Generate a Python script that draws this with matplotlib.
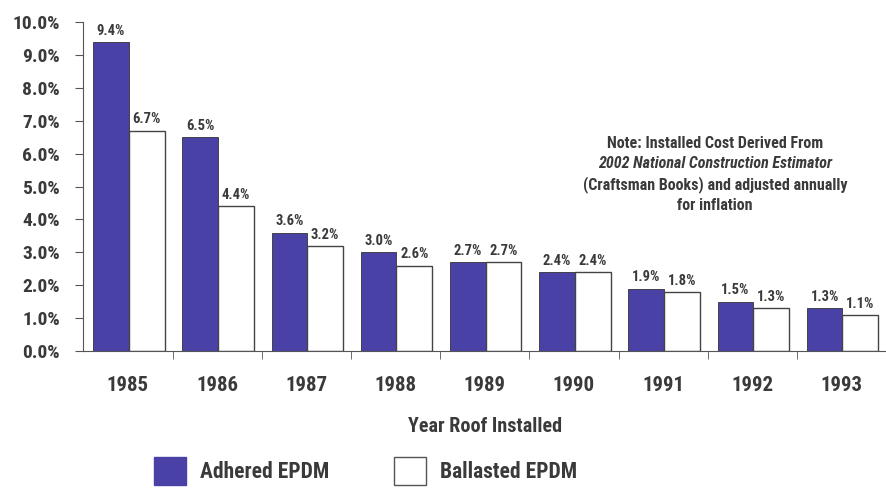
import numpy as np
import matplotlib.pyplot as plt
from matplotlib.patches import Patch

years = ['1985', '1986', '1987', '1988', '1989', '1990', '1991', '1992', '1993']
adhered = [9.4, 6.5, 3.6, 3.0, 2.7, 2.4, 1.9, 1.5, 1.3]
ballasted = [6.7, 4.4, 3.2, 2.6, 2.7, 2.4, 1.8, 1.3, 1.1]

purple = '#4a41a6'
txt = '#3a3a3a'
plt.rcParams['font.family'] = ['Roboto Condensed', 'Liberation Sans Narrow', 'Roboto', 'DejaVu Sans']
plt.rcParams['font.weight'] = 'bold'
plt.rcParams['axes.labelweight'] = 'bold'

fig = plt.figure(figsize=(8.87, 4.93), dpi=100)
ax = fig.add_axes([0.094, 0.288, 0.905, 0.667])

x = np.arange(len(years))
w = 0.4
b1 = ax.bar(x - w/2 + 0.01, adhered, w, color=purple, edgecolor='#333333', linewidth=0.6)
b2 = ax.bar(x + w/2 + 0.01, ballasted, w, color='white', edgecolor='#444444', linewidth=1)

for bars, vals in [(b1, adhered), (b2, ballasted)]:
    for r, v in zip(bars, vals):
        ax.text(r.get_x() + r.get_width()/2, v + 0.13, f'{v:.1f}%', ha='center', va='bottom',
                fontsize=10.5, color=txt, fontweight='bold')

ax.set_xlim(-0.5, len(years) - 0.5)
ax.set_ylim(0, 10)
ax.set_yticks(np.arange(0, 11))
ax.set_yticklabels([f'{v:.1f}%' for v in range(11)], fontsize=14, color=txt)
ax.set_xticks(x)
ax.set_xticklabels(years, fontsize=15, color=txt)
ax.tick_params(axis='x', length=0, pad=18)
ax.tick_params(axis='y', length=6, color='#555555', pad=11)
ax.set_xticks(np.arange(0.5, len(years) - 1, 1), minor=True)
ax.tick_params(axis='x', which='minor', length=6, color='#555555')
ax.spines['top'].set_visible(False)
ax.spines['right'].set_visible(False)
ax.spines['left'].set_color('#555555')
ax.spines['bottom'].set_color('#555555')
ax.set_xlabel('Year Roof Installed', fontsize=14.5, color=txt, labelpad=16)

note = ['Note: Installed Cost Derived From',
        '2002 National Construction Estimator',
        '(Craftsman Books) and adjusted annually',
        'for inflation']
for i, line in enumerate(note):
    ax.text(0.787, 0.632 - i * 0.063, line, transform=ax.transAxes, ha='center', va='center',
            fontsize=11.5, color=txt, fontstyle='italic' if i == 1 else 'normal')

handles = [Patch(facecolor=purple, edgecolor=purple, label='Adhered EPDM'),
           Patch(facecolor='white', edgecolor='#555555', label='Ballasted EPDM')]
leg = fig.legend(handles=handles, loc='center', bbox_to_anchor=(0.412, 0.045), ncol=2, frameon=False,
                 fontsize=15.5, handlelength=1.5, handleheight=1.65, columnspacing=3.0, handletextpad=0.65)
for t in leg.get_texts():
    t.set_color(txt)

fig.savefig('out.png', dpi=100)
